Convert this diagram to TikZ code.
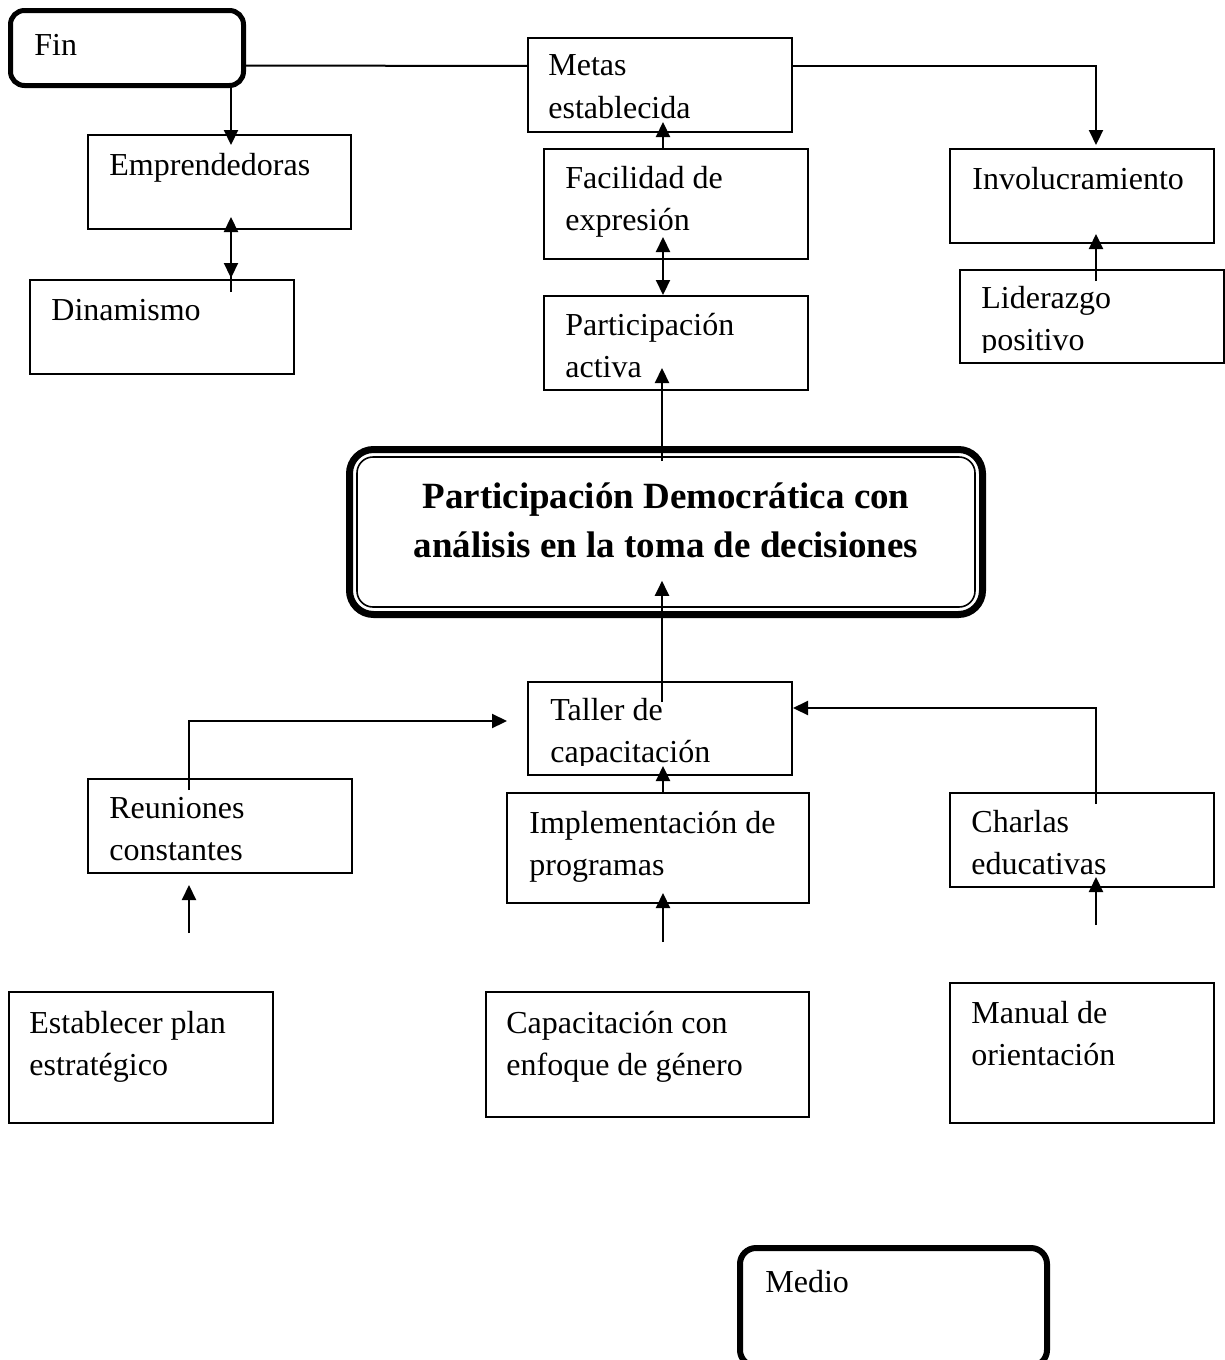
\documentclass[tikz,border=0pt]{standalone}
\usepackage{fontspec}
\setmainfont{Liberation Serif}
\usetikzlibrary{arrows.meta,calc}
\begin{document}
\begin{tikzpicture}[x=0.5pt,y=-0.5pt,
  box/.style={draw, line width=1pt, inner sep=0pt, outer sep=0pt},
  fatbox/.style={draw, line width=2.5pt, rounded corners=7pt, inner sep=0pt, outer sep=0pt},
  txt/.style={anchor=base west, inner sep=0pt, align=left, font=\fontsize{16pt}{21pt}\selectfont},
  ttl/.style={anchor=base, inner sep=0pt, align=center, font=\fontsize{18.5pt}{24.5pt}\selectfont\bfseries},
  arr/.style={line width=1.1pt, -{Triangle[length=7.5pt,width=7pt]}},
  ln/.style={line width=1pt},
]
\useasboundingbox (0,0) rectangle (1225,1360);

% ---- boxes ----
\node[fatbox, minimum width=116.5pt, minimum height=37.5pt] (fin) at (127,48) {};
\node[box, minimum width=132pt, minimum height=47pt] (metas) at (660,85) {};
\node[box, minimum width=131.5pt, minimum height=47pt] (emp) at (219.5,182) {};
\node[box, minimum width=132pt, minimum height=47pt] (din) at (162,327) {};
\node[box, minimum width=132pt, minimum height=55pt] (fac) at (676,204) {};
\node[box, minimum width=132pt, minimum height=47pt] (par) at (676,343) {};
\node[box, minimum width=132pt, minimum height=47pt] (inv) at (1082,196) {};
\node[box, minimum width=132pt, minimum height=46.5pt] (lid) at (1092,316.5) {};
\node[draw, line width=3.5pt, rounded corners=12pt, inner sep=0pt, minimum width=316.5pt, minimum height=82.5pt] (tout) at (666,532) {};
\node[draw, line width=0.8pt, rounded corners=8pt, inner sep=0pt, minimum width=309pt, minimum height=75pt] (tin) at (666,532) {};
\node[box, minimum width=132pt, minimum height=46.5pt] (taller) at (660,728.5) {};
\node[box, minimum width=132pt, minimum height=47pt] (reu) at (220,826) {};
\node[box, minimum width=151pt, minimum height=55pt] (imp) at (658,848) {};
\node[box, minimum width=132pt, minimum height=47pt] (cha) at (1082,840) {};
\node[box, minimum width=132pt, minimum height=65.5pt] (est) at (141,1057.5) {};
\node[box, minimum width=161.5pt, minimum height=62.5pt] (cap) at (647.5,1054.5) {};
\node[box, minimum width=132pt, minimum height=70pt] (man) at (1082,1053) {};
\node[draw, line width=3pt, rounded corners=8pt, inner sep=0pt, minimum width=153.5pt, minimum height=59pt] (medio) at (893.5,1307) {};

% ---- texts (multi-line nodes are placed by the baseline of their last line) ----
\node[txt] (fint) at (34,55) {Fin};
\node[txt] (metast) at (548,118) {Metas\\establecida};
\node[txt] (empt) at (109,175) {Emprendedoras};
\node[txt] (dint) at (51,320) {Dinamismo};
\node[txt] (fact) at (565,230) {Facilidad de\\expresión};
\node[txt] (part) at (565,377) {Participación\\activa};
\node[txt] (invt) at (972,189) {Involucramiento};
\begin{scope}
\clip (960,270) rectangle (1224,352);
\node[txt] (lidt) at (981,350) {Liderazgo\\positivo};
\end{scope}
\node[ttl] (tt) at (666,557) {Participación Democrática con\\análisis en la toma de decisiones};
\begin{scope}
\clip (528,682) rectangle (792,765);
\node[txt] (tallert) at (550,762) {Taller de\\capacitación};
\end{scope}
\node[txt] (reut) at (109,860) {Reuniones\\constantes};
\node[txt] (impt) at (529,875) {Implementación de\\programas};
\node[txt] (chat) at (971,874) {Charlas\\educativas};
\node[txt] (estt) at (29,1075) {Establecer plan\\estratégico};
\node[txt] (capt) at (506,1075) {Capacitación con\\enfoque de género};
\node[txt] (mant) at (971,1065) {Manual de\\orientación};
\node[txt] (mediot) at (765,1292) {Medio};

% ---- connectors ----
\draw[ln] ($(fin.south east)+(0,-20)$) -- ($(metas.north west)+(0,28)$);
\draw[arr] ($(metas.north east)+(0,28)$) -| ($(inv.north west)+(146,-4)$);
\draw[arr] ($(fin.south west)+(220.5,0)$) -- ($(emp.north west)+(143,10)$);
\draw[arr] ($(din.north west)+(201,12)$) -- ($(emp.south west)+(143,-12)$);
\draw[arr] ($(emp.south west)+(143,10)$) -- ($(din.north west)+(201,-2)$);
\draw[arr] ($(fac.north west)+(119,0)$) -- ($(metas.south west)+(135,-10)$);
\draw[arr] ($(par.north west)+(119,-20)$) -- ($(fac.south west)+(119,-22)$);
\draw[arr] ($(fac.south west)+(119,10)$) -- ($(par.north west)+(119,-1)$);
\draw[arr] ($(tin.north)+(-4,5)$) -- ($(par.south west)+(118,-22)$);
\draw[arr] ($(taller.north west)+(134,20)$) -- ($(tin.south)+(-4,-27)$);
\draw[arr] ($(imp.north west)+(156,0)$) -- ($(taller.south west)+(135,-9)$);
\draw[arr] ($(cap.north west)+(177,-50)$) -- ($(imp.south west)+(156,-10)$);
\draw[arr] ($(reu.north west)+(101,11)$) |- ($(taller.north west)+(-21,39)$);
\draw[arr] ($(est.north west)+(180,-59)$) -- ($(reu.south west)+(101,12)$);
\draw[arr] ($(cha.north west)+(146,11)$) |- ($(taller.north east)+(1,26)$);
\draw[arr] ($(man.north west)+(146,-58)$) -- ($(cha.south west)+(146,-10)$);
\draw[arr] ($(lid.north west)+(136,11)$) -- ($(inv.south west)+(146,-9)$);
\end{tikzpicture}
\end{document}
